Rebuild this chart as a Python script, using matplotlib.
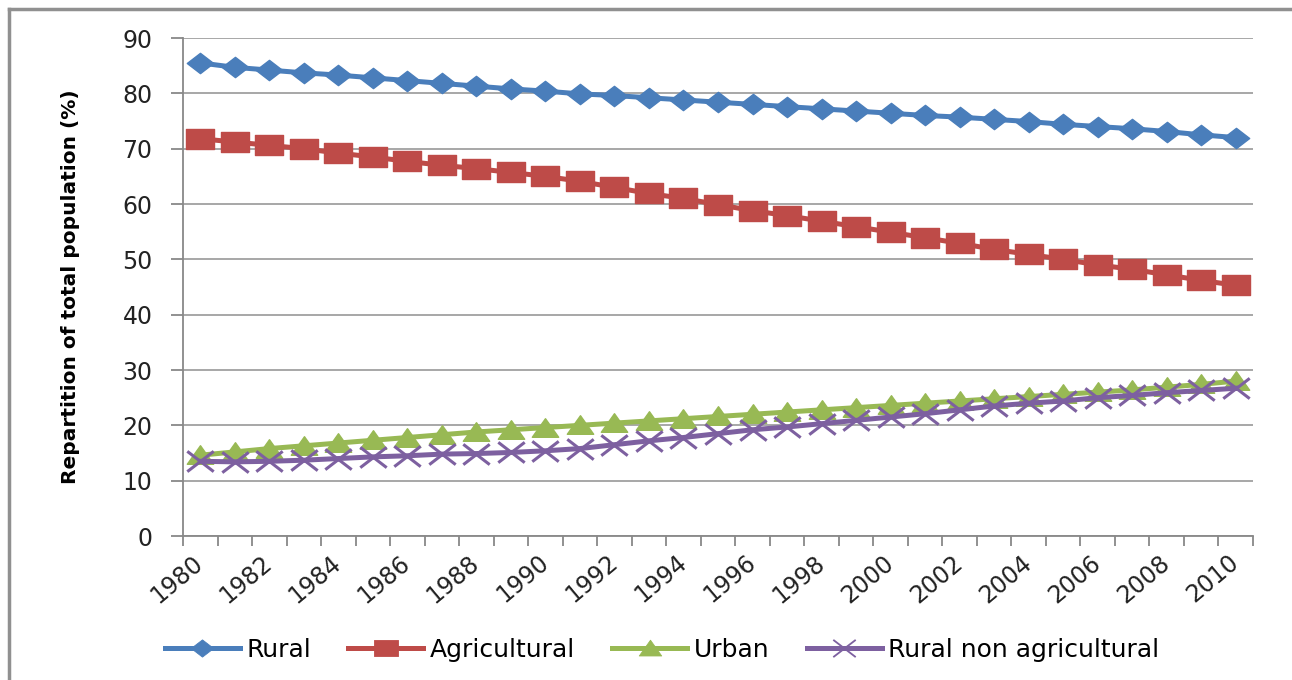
import matplotlib
matplotlib.use("Agg")
import matplotlib.pyplot as plt
from matplotlib.lines import Line2D
from matplotlib.path import Path

years = list(range(1980, 2011))
rural = [85.5, 84.7, 84.2, 83.7, 83.3, 82.8, 82.3, 81.8, 81.3, 80.8, 80.4,
         79.9, 79.6, 79.2, 78.8, 78.4, 78.0, 77.6, 77.2, 76.8, 76.4,
         76.0, 75.7, 75.3, 74.9, 74.4, 74.0, 73.6, 73.1, 72.5, 72.0]
agricultural = [71.8, 71.2, 70.6, 70.0, 69.2, 68.5, 67.7, 67.0, 66.4, 65.7, 65.0,
                64.1, 63.0, 61.9, 61.0, 59.9, 58.8, 57.9, 56.9, 55.9, 54.9,
                53.9, 52.9, 51.8, 50.9, 50.0, 49.0, 48.2, 47.2, 46.2, 45.3]
urban = [14.6, 15.2, 15.8, 16.3, 16.8, 17.3, 17.8, 18.3, 18.8, 19.2, 19.6,
         20.0, 20.4, 20.8, 21.2, 21.6, 22.0, 22.4, 22.8, 23.2, 23.6,
         24.0, 24.4, 24.8, 25.2, 25.6, 26.0, 26.4, 26.9, 27.4, 28.0]
rural_non_agri = [13.5, 13.4, 13.5, 13.7, 14.0, 14.3, 14.5, 14.8, 14.9, 15.1, 15.4,
                  15.8, 16.5, 17.2, 17.8, 18.5, 19.2, 19.7, 20.3, 20.9, 21.5,
                  22.1, 22.8, 23.5, 24.0, 24.4, 25.0, 25.4, 25.9, 26.3, 26.7]
series_names = ["Rural", "Agricultural", "Urban", "Rural non agricultural"]
y_ticks = [0, 10, 20, 30, 40, 50, 60, 70, 80, 90]
x_labels = [str(y) for y in years[::2]]

plt.rcParams['font.family'] = ['DejaVu Sans']

# wide (horizontally stretched) marker shapes
diamond = Path([(-1.3, 0), (0, 1), (1.3, 0), (0, -1), (-1.3, 0)], closed=True)
square = Path([(-1.4, -1), (1.4, -1), (1.4, 1), (-1.4, 1), (-1.4, -1)], closed=True)
triangle = Path([(-1.35, -0.9), (1.35, -0.9), (0, 1.0), (-1.35, -0.9)], closed=True)
cross = Path([(-1.3, -1), (1.3, 1), (-1.3, 1), (1.3, -1)],
             [Path.MOVETO, Path.LINETO, Path.MOVETO, Path.LINETO])

fig = plt.figure(figsize=(12.92, 6.8), dpi=100)
ax = fig.add_axes([183/1292, 1-536/680, (1253-183)/1292, (536-38)/680])

xs = list(range(len(years)))
styles = [
    dict(color="#4A7EBB", marker=diamond, ms=19, mew=1),
    dict(color="#BE4B48", marker=square, ms=20, mew=1),
    dict(color="#98B954", marker=triangle, ms=19, mew=1),
    dict(color="#7D60A0", marker=cross, ms=19, mew=2.2),
]
data = [rural, agricultural, urban, rural_non_agri]
handles = []
for vals, name, st in zip(data, series_names, styles):
    ax.plot(xs, vals, color=st["color"], lw=3.6, marker=st["marker"],
            ms=st["ms"], mec=st["color"], mfc=st["color"],
            mew=st["mew"], label=name, zorder=3)
    handles.append(Line2D([0], [0], color=st["color"], lw=3.6, marker=st["marker"],
                          ms=st["ms"] * 0.85, mec=st["color"], mfc=st["color"],
                          mew=st["mew"] * 0.6))

ax.set_xlim(-0.5, len(years) - 0.5)
ax.set_ylim(0, 90)
ax.set_yticks(y_ticks)
ax.set_yticklabels([str(v) for v in y_ticks], fontsize=17, color="#222222")
ax.yaxis.grid(True, color="#A0A0A0", lw=1.3)
ax.set_axisbelow(True)

ax.set_xticks([x - 0.5 for x in range(len(years) + 1)], minor=True)
ax.set_xticks(xs[::2])
ax.set_xticklabels(x_labels, rotation=40, ha="right", va="center",
                   rotation_mode="anchor", fontsize=17, color="#222222")
ax.tick_params(axis="x", which="major", length=0, pad=17)
ax.tick_params(axis="x", which="minor", length=7, color="#888888", width=1.3)
ax.tick_params(axis="y", length=9, color="#888888", width=1.3, pad=13)

for s in ["top", "right"]:
    ax.spines[s].set_visible(False)
for s in ["left", "bottom"]:
    ax.spines[s].set_color("#888888")
    ax.spines[s].set_linewidth(1.3)

ax.set_ylabel("Repartition of total population (%)", fontsize=14.5,
              fontweight="bold")
ax.yaxis.set_label_coords((80 - 183) / 1070, 0.5)

fig.legend(handles, series_names, loc="center", bbox_to_anchor=(662/1292, 1-650/680),
           ncol=4, frameon=False, fontsize=18, handlelength=3.0,
           columnspacing=1.5, handletextpad=0.25)

# chart border (left and top edges visible)
fig.add_artist(Line2D([9/1292, 9/1292], [0, 1-9/680], transform=fig.transFigure,
                      color="#909090", lw=2.5))
fig.add_artist(Line2D([9/1292, 1], [1-9/680, 1-9/680], transform=fig.transFigure,
                      color="#909090", lw=2.5))

fig.savefig("out.png", dpi=100)
